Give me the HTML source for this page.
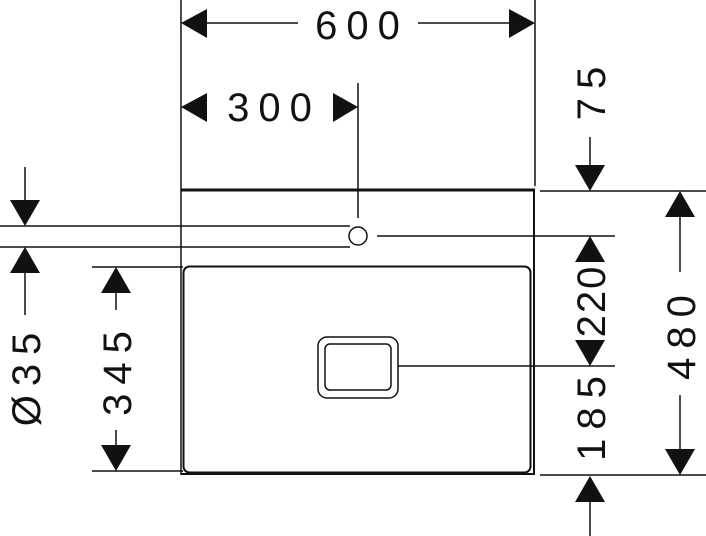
<!DOCTYPE html>
<html><head><style>html,body{margin:0;padding:0;background:#fff}svg{display:block}</style></head>
<body>
<svg width="706" height="536" viewBox="0 0 706 536" xmlns="http://www.w3.org/2000/svg" font-family="Liberation Sans, sans-serif" font-size="40" fill="#111">
<g stroke="#111" stroke-width="1.5" fill="none">
<line x1="181" y1="0" x2="181" y2="475"/>
<line x1="535" y1="0" x2="535" y2="186"/>
<line x1="358" y1="83" x2="358" y2="218"/>
<line x1="540" y1="191" x2="706" y2="191"/>
<line x1="540" y1="475" x2="706" y2="475"/>
<line x1="0" y1="226" x2="350" y2="226"/>
<line x1="0" y1="247" x2="350" y2="247"/>
<line x1="377" y1="236" x2="615" y2="236"/>
<line x1="398" y1="366" x2="615" y2="366"/>
<line x1="92" y1="267" x2="183" y2="267"/>
<line x1="92" y1="471" x2="183" y2="471"/>
<line x1="205" y1="23" x2="298" y2="23"/>
<line x1="418" y1="23" x2="512" y2="23"/>
<line x1="590" y1="137" x2="590" y2="168"/>
<line x1="25" y1="167" x2="25" y2="202"/>
<line x1="25" y1="270" x2="25" y2="315"/>
<line x1="116" y1="290" x2="116" y2="310"/>
<line x1="116" y1="430" x2="116" y2="448"/>
<line x1="680" y1="215" x2="680" y2="272"/>
<line x1="680" y1="395" x2="680" y2="452"/>
<line x1="590" y1="500" x2="590" y2="536"/>
<line x1="181" y1="190" x2="535" y2="190" stroke-width="3"/>
<line x1="534" y1="190" x2="534" y2="475" stroke-width="2"/>
<line x1="181" y1="474" x2="535" y2="474" stroke-width="2"/>
<rect x="183.5" y="266.5" width="347" height="206" rx="6" stroke-width="2"/>
<circle cx="358" cy="236" r="9"/>
<rect x="318" y="337" width="80" height="61" rx="9"/>
<rect x="325" y="344" width="66" height="46" rx="5"/>
</g>
<g fill="#111">
<polygon points="181,23 207,9 207,38"/>
<polygon points="535,23 509,9 509,38"/>
<polygon points="181,107 207,93 207,122"/>
<polygon points="358,107 333,93 333,122"/>
<polygon points="590,191 575,165 605,165"/>
<polygon points="25,226 10,200 40,200"/>
<polygon points="25,247 10,273 40,273"/>
<polygon points="116,267 101,293 131,293"/>
<polygon points="116,471 101,445 131,445"/>
<polygon points="590,236 575,262 605,262"/>
<polygon points="590,366 575,340 605,340"/>
<polygon points="590,476 575,502 605,502"/>
<polygon points="680,191 665,217 695,217"/>
<polygon points="680,475 665,449 695,449"/>
</g>
<text x="362" y="39" text-anchor="middle" letter-spacing="9">600</text>
<text x="274" y="121" text-anchor="middle" letter-spacing="9">300</text>
<g text-anchor="middle">
<text transform="translate(605,89) rotate(-90)" letter-spacing="9">75</text>
<text transform="translate(40,375) rotate(-90)" letter-spacing="9">Ø35</text>
<text transform="translate(131,369) rotate(-90)" letter-spacing="9">345</text>
<text transform="translate(605,301) rotate(-90)" letter-spacing="2">220</text>
<text transform="translate(605,414) rotate(-90)" letter-spacing="9">185</text>
<text transform="translate(695,333) rotate(-90)" letter-spacing="9">480</text>
</g>
</svg>
</body></html>
